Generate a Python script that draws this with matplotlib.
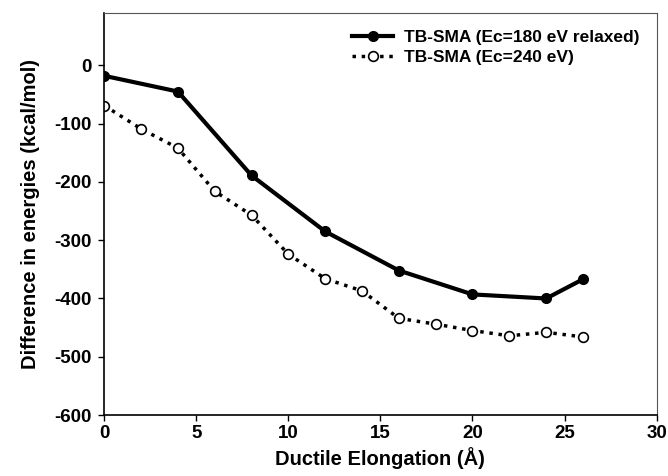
import numpy as np
import matplotlib
matplotlib.use('Agg')
import matplotlib.pyplot as plt

plt.rcParams['font.family'] = ['Liberation Sans', 'DejaVu Sans']
plt.rcParams['font.weight'] = 'bold'
plt.rcParams['axes.unicode_minus'] = False

# relaxed Ec=180 eV
x_relax = [0, 4, 8, 12, 16, 20, 24, 26]
e_relax = [-18, -45, -189, -285, -352, -393, -400, -367]

# Ec=240 eV
x_240 = [0, 2, 4, 6, 8, 10, 12, 14, 16, 18, 20, 22, 24, 26]
e_240 = [-69, -109, -142, -216, -257, -324, -366, -387, -434, -444, -455, -464, -458, -466]

fig = plt.figure(figsize=(6.68, 4.76), dpi=100)
ax = fig.add_axes([0.156, 0.128, 0.827, 0.845])

ax.plot(x_relax, e_relax, '-', color='black', lw=3, marker='o', ms=7,
        label='TB-SMA (Ec=180 eV relaxed)')
ax.plot(x_240, e_240, ':', color='black', lw=2.5, marker='o', ms=7,
        mfc='white', mec='black', mew=1.2, label='TB-SMA (Ec=240 eV)')

ax.set_xlim(0, 30)
ax.set_ylim(-600, 90)
ax.set_xticks(np.arange(0, 31, 5))
ax.set_yticks(np.arange(-600, 1, 100))
ax.tick_params(labelsize=13.5, direction='out', length=4, width=1)
ax.tick_params(axis='x', pad=3)
ax.tick_params(axis='y', pad=5)
for lab in ax.get_xticklabels() + ax.get_yticklabels():
    lab.set_fontweight('bold')

for s in ['left', 'bottom']:
    ax.spines[s].set_linewidth(1.2)
for s in ['top', 'right']:
    ax.spines[s].set_linewidth(0.8)
    ax.spines[s].set_color('#555555')

ax.set_xlabel('Ductile Elongation (Å)', fontsize=14.5, fontweight='bold', labelpad=4)
ax.set_ylabel('Difference in energies (kcal/mol)', fontsize=14.5, fontweight='bold', labelpad=10)

leg = ax.legend(loc='upper right', frameon=False, fontsize=12.5, handlelength=2.4,
                borderaxespad=0.6, labelspacing=0.25, handletextpad=0.6)
for t in leg.get_texts():
    t.set_fontweight('bold')

fig.savefig('out.png', dpi=100)
